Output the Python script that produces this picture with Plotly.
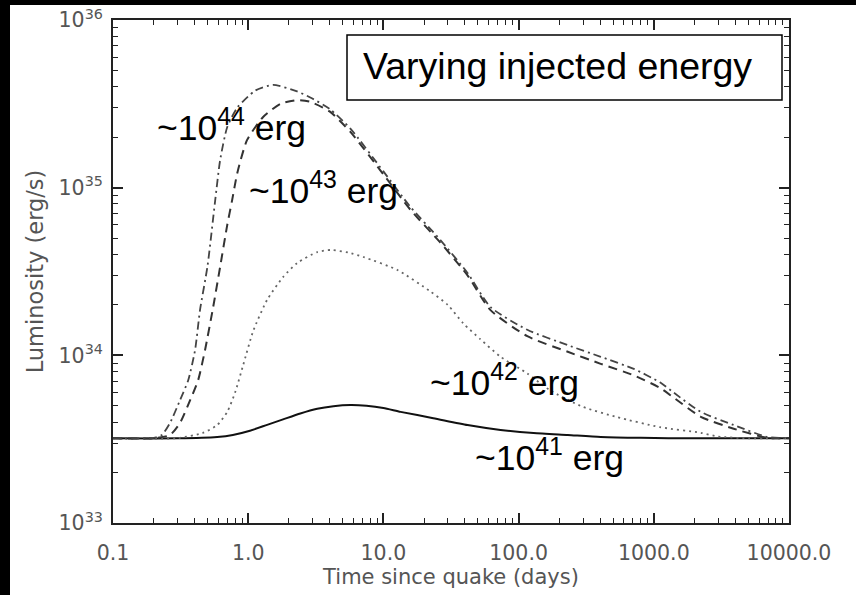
import plotly.graph_objects as go

# ---------------- data ----------------
t_41 = [0.1, 0.3, 0.59, 0.77, 1.03, 1.38, 1.81, 2.43, 3.24, 4.27, 5.7, 7.5, 10, 13.4,
        23.4, 41.9, 73.6, 129, 231, 405, 800, 2000, 10000]
L_41 = [3.2e33, 3.2e33, 3.26e33, 3.35e33, 3.55e33, 3.85e33, 4.15e33, 4.5e33, 4.8e33,
        4.97e33, 5.05e33, 5.0e33, 4.85e33, 4.6e33, 4.22e33, 3.84e33, 3.59e33, 3.44e33,
        3.35e33, 3.26e33, 3.22e33, 3.2e33, 3.2e33]

t_42 = [0.1, 0.3, 0.46, 0.59, 0.70, 0.80, 0.92, 1.09, 1.38, 1.81, 2.3, 3.24, 4.1, 5.5,
        7.1, 12.7, 22.3, 29.9, 39, 52, 73.6, 116, 170, 300, 535, 1110, 2230, 2980, 5000,
        10000]
L_42 = [3.2e33, 3.21e33, 3.44e33, 3.84e33, 4.6e33, 6.0e33, 8.8e33, 1.4e34, 2.14e34,
        2.93e34, 3.55e34, 4.13e34, 4.25e34, 4.1e34, 3.86e34, 3.23e34, 2.4e34, 2.0e34,
        1.55e34, 1.25e34, 9.8e33, 7.8e33, 6.2e33, 4.92e33, 4.28e33, 3.73e33, 3.45e33,
        3.28e33, 3.2e33, 3.2e33]

t_43 = [0.1, 0.2, 0.264, 0.313, 0.372, 0.426, 0.48, 0.55, 0.62, 0.70, 0.76, 0.83, 0.98,
        1.29, 1.73, 2.3, 2.88, 4.0, 5.7, 10, 15.8, 26.4, 41.9, 62, 116, 231, 405, 711,
        1110, 1400, 2227, 3900, 6900, 10000]
L_43 = [3.2e33, 3.2e33, 3.35e33, 3.95e33, 5.4e33, 7.1e33, 1.08e34, 1.93e34, 3.37e34,
        6.0e34, 8.4e34, 1.22e35, 1.92e35, 2.64e35, 3.16e35, 3.33e35, 3.25e35, 2.85e35,
        2.15e35, 1.2e35, 7.4e34, 4.7e34, 3.0e34, 1.86e34, 1.3e34, 1.05e34, 8.9e33,
        7.6e33, 6.4e33, 5.6e33, 4.3e33, 3.65e33, 3.22e33, 3.2e33]

t_44 = [0.1, 0.2, 0.23, 0.264, 0.313, 0.36, 0.405, 0.44, 0.5, 0.57, 0.62, 0.70, 0.83,
        1.13, 1.53, 2.3, 2.88, 4.0, 5.7, 10, 15.8, 26.4, 41.9, 62, 116, 231, 405, 711,
        1110, 1400, 2227, 3900, 6900, 10000]
L_44 = [3.2e33, 3.22e33, 3.35e33, 3.95e33, 5.4e33, 7.1e33, 1.08e34, 1.86e34, 3.4e34,
        8.4e34, 1.46e35, 2.3e35, 3.0e35, 3.8e35, 4.1e35, 3.75e35, 3.45e35, 2.95e35,
        2.25e35, 1.25e35, 7.7e34, 4.87e34, 3.1e34, 1.94e34, 1.42e34, 1.15e34, 9.8e33,
        8.3e33, 6.9e33, 6.0e33, 4.6e33, 3.84e33, 3.26e33, 3.2e33]

x_tickvals = [0.1, 1, 10, 100, 1000, 10000]
x_ticktext = ["0.1", "1.0", "10.0", "100.0", "1000.0", "10000.0"]
y_tickvals = [1e33, 1e34, 1e35, 1e36]
y_ticktext = ["10<sup>33</sup>", "10<sup>34</sup>", "10<sup>35</sup>", "10<sup>36</sup>"]

labels = ["~10<sup>44</sup> erg", "~10<sup>43</sup> erg", "~10<sup>42</sup> erg", "~10<sup>41</sup> erg"]
box_text = "Varying injected energy"

# ---------------- layout geometry (pixels) ----------------
W, H = 856, 595
L_PX, R_PX, T_PX, B_PX = 113, 789, 20, 523
PW, PH = R_PX - L_PX, B_PX - T_PX


def px(x):
    return (x - L_PX) / PW


def py(y):
    return (B_PX - y) / PH


fig = go.Figure()
fig.add_trace(go.Scatter(x=t_41, y=L_41, mode="lines",
                         line=dict(color="#111", width=2, shape="spline", smoothing=0.6)))
fig.add_trace(go.Scatter(x=t_42, y=L_42, mode="lines",
                         line=dict(color="#666", width=1.8, dash="2px,4px", shape="spline", smoothing=0.6)))
fig.add_trace(go.Scatter(x=t_43, y=L_43, mode="lines",
                         line=dict(color="#333", width=2, dash="9px,6px", shape="spline", smoothing=0.6)))
fig.add_trace(go.Scatter(x=t_44, y=L_44, mode="lines",
                         line=dict(color="#444", width=1.8, dash="8px,4px,2px,4px", shape="spline", smoothing=0.6)))

minor_x = [m * 10.0 ** e for e in range(-1, 4) for m in range(2, 10)]
minor_y = [m * 10.0 ** e for e in range(33, 36) for m in range(2, 10)]

tickfont = dict(family="DejaVu Sans", size=20.5, color="#555")
axis_common = dict(type="log", ticks="inside", ticklen=10, tickwidth=1.5, tickcolor="#222",
                   showline=True, linecolor="#222", linewidth=2, mirror="allticks",
                   showgrid=False, zeroline=False, tickfont=tickfont)

fig.update_xaxes(range=[-1, 4], tickmode="array", tickvals=x_tickvals, ticktext=x_ticktext,
                 ticklabelstandoff=10,
                 minor=dict(tickmode="array", tickvals=minor_x, ticks="inside", ticklen=5,
                            tickwidth=1.2, tickcolor="#222", showgrid=False),
                 title=dict(text="Time since quake (days)",
                            font=dict(family="DejaVu Sans", size=21, color="#555"), standoff=4),
                 **axis_common)
fig.update_yaxes(range=[33, 36], tickmode="array", tickvals=y_tickvals, ticktext=y_ticktext,
                 ticklabelstandoff=4,
                 minor=dict(tickmode="array", tickvals=minor_y, ticks="inside", ticklen=5,
                            tickwidth=1.2, tickcolor="#222", showgrid=False),
                 title=dict(text="Luminosity (erg/s)",
                            font=dict(family="DejaVu Sans", size=22.5, color="#555"), standoff=9),
                 **axis_common)

shapes = [
    # black strips at the image border
    dict(type="rect", xref="paper", yref="paper", x0=px(0), x1=px(10), y0=py(H), y1=py(0),
         fillcolor="black", line=dict(width=0), layer="above"),
    dict(type="rect", xref="paper", yref="paper", x0=px(0), x1=px(W), y0=py(5), y1=py(0),
         fillcolor="black", line=dict(width=0), layer="above"),
    # legend box
    dict(type="rect", xref="paper", yref="paper", x0=px(347), x1=px(782), y0=py(100), y1=py(35),
         fillcolor="white", line=dict(color="black", width=1.5), layer="above"),
]

lab_font = dict(family="Liberation Sans, Arial", size=35.5, color="black")
box_font = dict(family="Liberation Sans, Arial", size=37.5, color="black")
annotations = [
    dict(text=box_text, x=px(557), y=py(66), xref="paper", yref="paper", showarrow=False,
         xanchor="center", yanchor="middle", font=box_font),
    dict(text=labels[0], x=px(155), y=py(125), xref="paper", yref="paper", showarrow=False,
         xanchor="left", yanchor="middle", font=lab_font),
    dict(text=labels[1], x=px(247), y=py(188), xref="paper", yref="paper", showarrow=False,
         xanchor="left", yanchor="middle", font=lab_font),
    dict(text=labels[2], x=px(428), y=py(380), xref="paper", yref="paper", showarrow=False,
         xanchor="left", yanchor="middle", font=lab_font),
    dict(text=labels[3], x=px(473), y=py(455), xref="paper", yref="paper", showarrow=False,
         xanchor="left", yanchor="middle", font=lab_font),
]

fig.update_layout(width=W, height=H, autosize=False,
                  margin=dict(l=L_PX, r=W - R_PX, t=T_PX, b=H - B_PX, autoexpand=False),
                  paper_bgcolor="white", plot_bgcolor="white", showlegend=False,
                  shapes=shapes, annotations=annotations)

fig.write_html("out.html")
